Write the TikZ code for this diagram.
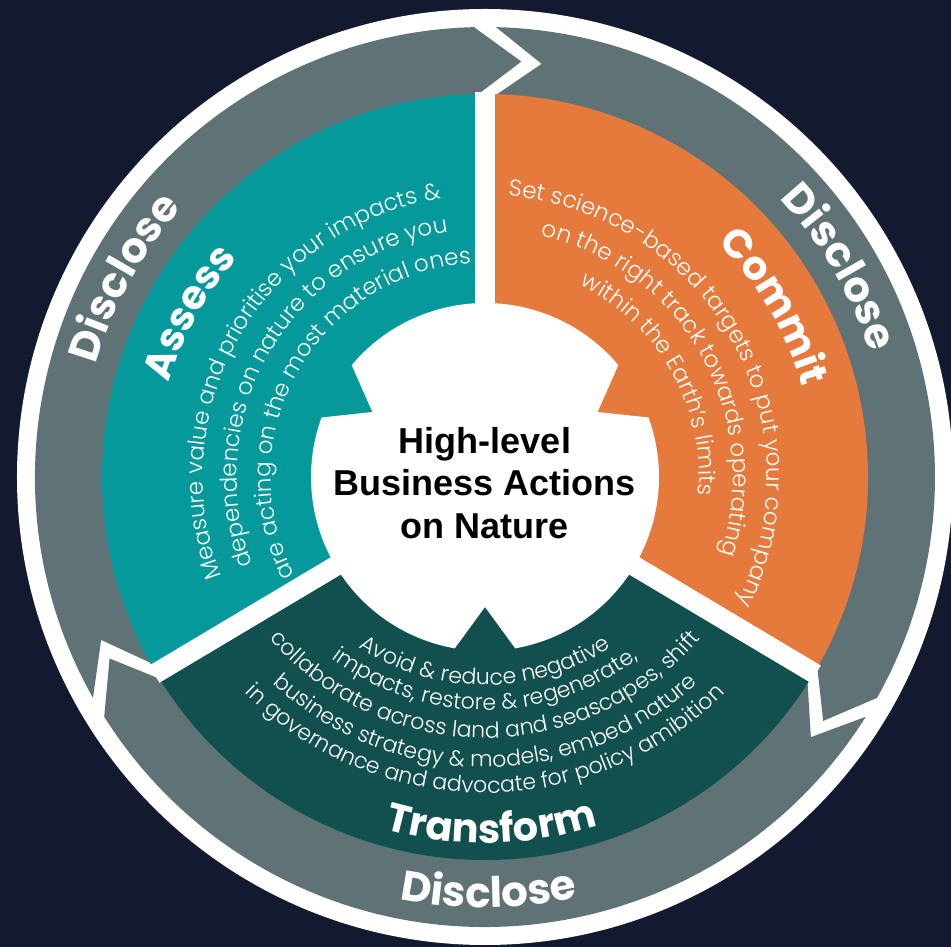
\documentclass[tikz,border=0pt]{standalone}
\usepackage{fontspec}
\setmainfont{Poppins}
\newfontfamily\bodyfont{Poppins Light}
\newfontfamily\centerfont{Liberation Sans}
\usetikzlibrary{decorations.text}
\definecolor{navy}{HTML}{131A2F}
\definecolor{ringgrey}{HTML}{5F7377}
\definecolor{tealc}{HTML}{05999B}
\definecolor{orangec}{HTML}{E67A3C}
\definecolor{darkgreenc}{HTML}{12504F}
\newcommand\headtxt{\bfseries\fontsize{40}{48}\selectfont}
\newcommand\disctxt{\bfseries\fontsize{42}{48}\selectfont}
\newcommand\bodytxt{\bodyfont\fontsize{23}{27}\selectfont}
\newcommand\bodytxtb{\bodyfont\fontsize{22}{26}\selectfont}
\tikzset{
  curvetext/.style={decorate, decoration={text along path, text={#1}, text align=center, text color=white}},
  greyseg/.style={fill=ringgrey},
  divider/.style={draw=white, line width=20pt},
}
\begin{document}
\begin{tikzpicture}[x=1pt,y=1pt]
\useasboundingbox (-485pt,-470pt) rectangle (466pt,477pt);
\fill[navy] (-485pt,-470pt) rectangle (466pt,477pt);
% outer white disk
\fill[white] (0,0) circle[radius=468pt];
% grey arrow segments
\fill[greyseg] (209.4:450pt) arc[start angle=209.4, end angle=91.4, radius=450pt] -- (85:417pt) -- (91.4:381pt) arc[start angle=91.4, end angle=209.4, radius=381pt] -- (203:417pt) -- cycle;
\fill[greyseg] (88.6:450pt) arc[start angle=88.6, end angle=-29.4, radius=450pt] -- (-35.8:417pt) -- (-29.4:381pt) arc[start angle=-29.4, end angle=88.6, radius=381pt] -- (82.2:417pt) -- cycle;
\fill[greyseg] (327.8:450pt) arc[start angle=327.8, end angle=212.2, radius=450pt] -- (205.8:417pt) -- (212.2:381pt) arc[start angle=212.2, end angle=327.8, radius=381pt] -- (321.4:417pt) -- cycle;
% sectors
\fill[tealc] (0,0) -- (90:383pt) arc[start angle=90, end angle=210.8, radius=383pt] -- cycle;
\fill[orangec] (0,0) -- (-30.8:383pt) arc[start angle=-30.8, end angle=90, radius=383pt] -- cycle;
\fill[darkgreenc] (0,0) -- (210.8:383pt) arc[start angle=210.8, end angle=329.2, radius=383pt] -- cycle;
% dividers
\draw[divider] (0,0) -- (90:385pt);
\draw[divider] (0,0) -- (210.8:385pt);
\draw[divider] (0,0) -- (329.2:385pt);
% hub
\fill[white] (-80:174pt) arc[start angle=-80, end angle=20, radius=174pt] -- (30:130pt) -- (40:174pt) arc[start angle=40, end angle=140, radius=174pt] -- (150:130pt) -- (160:174pt) arc[start angle=160, end angle=260, radius=174pt] -- (270:130pt) -- cycle;
\node[align=center, font={\centerfont\bfseries\fontsize{36}{42.5}\selectfont}, text=black] (hub) at (0pt,-6pt) {High-level\\Business Actions\\on Nature};
% Disclose labels
\path[curvetext={|\disctxt|Disclose}] (181.1:405pt) arc[start angle=181.1, end angle=121.1, radius=405pt];
\path[curvetext={|\disctxt|Disclose}] (60.6:405pt) arc[start angle=60.6, end angle=0.6, radius=405pt];
\path[curvetext={|\disctxt|Disclose}] (240.5:431pt) arc[start angle=240.5, end angle=300.5, radius=431pt];
% headings
\path[curvetext={|\headtxt|Assess}] (180.9:330pt) arc[start angle=180.9, end angle=120.9, radius=330pt];
\path[curvetext={|\headtxt|Commit}] (60.5:330pt) arc[start angle=60.5, end angle=0.5, radius=330pt];
\path[curvetext={|\headtxt|Transform}] (241:366pt) arc[start angle=241, end angle=301, radius=366pt];
% Assess body
\path[curvetext={|\bodytxt|Measure value and prioritise your impacts {\&}}] (229.8:282pt) arc[start angle=229.8, end angle=69.8, radius=282pt];
\path[curvetext={|\bodytxt|dependencies on nature to ensure you}] (229.6:248pt) arc[start angle=229.6, end angle=69.6, radius=248pt];
\path[curvetext={|\bodytxt|are acting on the most material ones}] (230.6:214pt) arc[start angle=230.6, end angle=70.6, radius=214pt];
% Commit body
\path[curvetext={|\bodytxt|Set science-based targets to put your company}] (109.4:282pt) arc[start angle=109.4, end angle=-50.6, radius=282pt];
\path[curvetext={|\bodytxt|on the right track towards operating}] (109.4:248pt) arc[start angle=109.4, end angle=-50.6, radius=248pt];
\path[curvetext={|\bodytxt|within the Earth’s limits}] (109.4:214pt) arc[start angle=109.4, end angle=-50.6, radius=214pt];
% Transform body
\begin{scope}[shift={(0pt,22pt)}]
\path[curvetext={|\bodytxtb|Avoid {\&} reduce negative}] (190:230pt) arc[start angle=190, end angle=350, radius=230pt];
\path[curvetext={|\bodytxtb|impacts, restore {\&} regenerate,}] (190:255pt) arc[start angle=190, end angle=350, radius=255pt];
\path[curvetext={|\bodytxtb|collaborate across land and seascapes, shift}] (190:283pt) arc[start angle=190, end angle=350, radius=283pt];
\path[curvetext={|\bodytxtb|business strategy {\&} models, embed nature}] (190:312pt) arc[start angle=190, end angle=350, radius=312pt];
\path[curvetext={|\bodytxtb|in governance and advocate for policy amibition}] (190:338pt) arc[start angle=190, end angle=350, radius=338pt];
\end{scope}
\end{tikzpicture}
\end{document}
